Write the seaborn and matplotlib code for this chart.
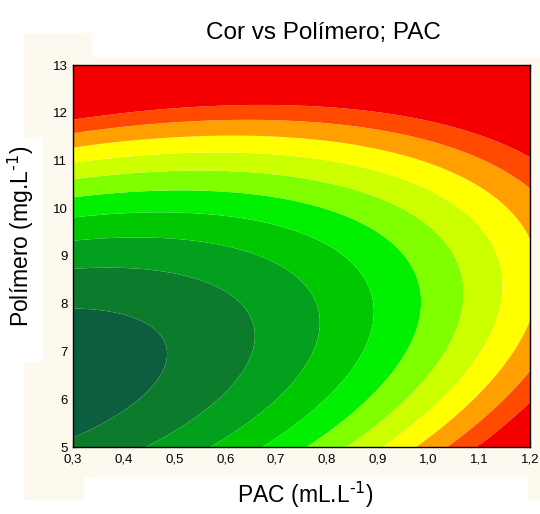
import numpy as np
import matplotlib
matplotlib.use("Agg")
import matplotlib.pyplot as plt
from matplotlib.patches import Rectangle
import seaborn as sns

# Axis ranges and ticks
pac_ticks = [0.3, 0.4, 0.5, 0.6, 0.7, 0.8, 0.9, 1.0, 1.1, 1.2]
polimero_ticks = [5, 6, 7, 8, 9, 10, 11, 12, 13]

# Quadratic response surface for Cor: b0 + b1*PAC + b2*Pol + b11*PAC^2 + b22*Pol^2 + b12*PAC*Pol
coef_intercept = 12.25
coef_pac = 6.82
coef_pol = -4.035
coef_pac2 = 8.362
coef_pol2 = 0.342
coef_pac_pol = -1.484

# Contour levels and the fill colour of each band
levels = [-100, 1, 2, 3, 4, 5, 6, 7, 8, 9, 10, 100]
band_colors = ["#0b5e3e", "#0c7b2c", "#02a01c", "#00c800", "#00f000",
               "#7fff00", "#ccff00", "#ffff00", "#ffa000", "#ff4a00", "#f40000"]

sns.set_style("ticks")
plt.rcParams["font.family"] = ["Liberation Sans", "DejaVu Sans"]
plt.rcParams["mathtext.default"] = "regular"

W, H = 540, 514
fig = plt.figure(figsize=(W / 100, H / 100), dpi=100)
fig.patch.set_facecolor("white")


def px_rect(x0, y0, x1, y1, color):
    fig.patches.append(Rectangle((x0 / W, 1 - y1 / H), (x1 - x0) / W, (y1 - y0) / H,
                                 transform=fig.transFigure, facecolor=color,
                                 edgecolor="none", zorder=-10))


cream = "#fdf9ef"
px_rect(24, 33, 540, 500, cream)
px_rect(92, 0, 540, 57, "white")
px_rect(0, 137, 43, 362, "white")
px_rect(84, 477, 528, 514, "white")

ax = fig.add_axes([73 / W, 1 - 447 / H, (530 - 73) / W, (447 - 65) / H])

pac = np.linspace(pac_ticks[0], pac_ticks[-1], 400)
pol = np.linspace(polimero_ticks[0], polimero_ticks[-1], 400)
P, Q = np.meshgrid(pac, pol)
Z = (coef_intercept + coef_pac * P + coef_pol * Q + coef_pac2 * P ** 2
     + coef_pol2 * Q ** 2 + coef_pac_pol * P * Q)

cmap_colors = sns.color_palette(band_colors)
ax.contourf(P, Q, Z, levels=levels, colors=cmap_colors, antialiased=True)

ax.set_xlim(pac_ticks[0], pac_ticks[-1])
ax.set_ylim(polimero_ticks[0], polimero_ticks[-1])
ax.set_xticks(pac_ticks)
ax.set_xticklabels([f"{v:.1f}".replace(".", ",") for v in pac_ticks])
ax.set_yticks(polimero_ticks)
ax.set_yticklabels([str(v) for v in polimero_ticks])
ax.tick_params(direction="in", top=True, right=True, length=4, width=0.8,
               colors="black", labelsize=9.5, pad=5)
ax.tick_params(axis="y", pad=4)
for s in ax.spines.values():
    s.set_color("black")
    s.set_linewidth(1.0)

fig.text(323 / W, 1 - 33 / H, "Cor vs Polímero; PAC", ha="center", va="center",
         fontsize=17.5, color="black")
fig.text(305 / W, 1 - 495 / H, r"PAC (mL.L$^{\text{-1}}$)", ha="center", va="center",
         fontsize=16.5, color="black")
fig.text(21 / W, 1 - 236 / H, r"Polímero (mg.L$^{\text{-1}}$)", ha="center", va="center",
         rotation=90, fontsize=16.5, color="black")

fig.savefig("out.png", dpi=100, facecolor=fig.get_facecolor())
